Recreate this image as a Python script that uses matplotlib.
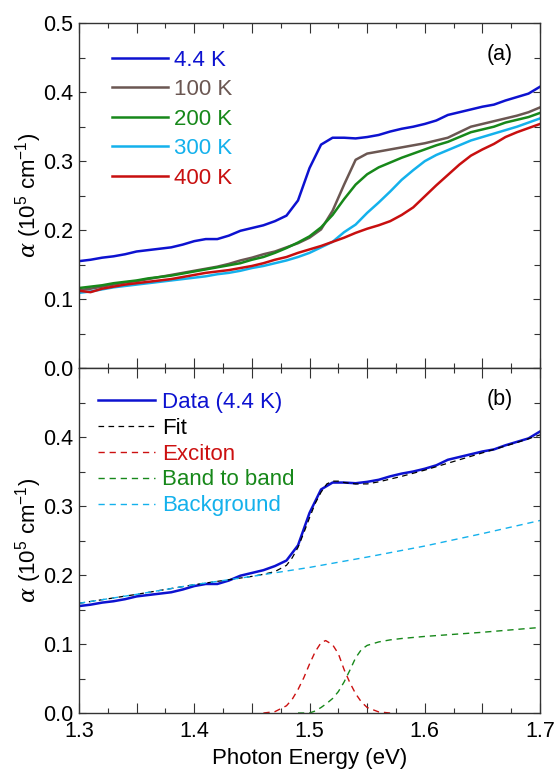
import matplotlib
matplotlib.use("Agg")
import matplotlib.pyplot as plt
from matplotlib.ticker import MultipleLocator, FuncFormatter

plt.rcParams['font.family'] = ['Liberation Sans', 'DejaVu Sans']
plt.rcParams['mathtext.fontset'] = 'custom'
plt.rcParams['mathtext.rm'] = 'Liberation Sans'
plt.rcParams['mathtext.it'] = 'DejaVu Serif:italic'

# photon energy grid (eV) for the measured spectra
ENERGY = [1.30, 1.31, 1.32, 1.33, 1.34, 1.35, 1.36, 1.37, 1.38, 1.39,
          1.40, 1.41, 1.42, 1.43, 1.44, 1.45, 1.46, 1.47, 1.48, 1.49,
          1.50, 1.51, 1.52, 1.53, 1.54, 1.55, 1.56, 1.57, 1.58, 1.59,
          1.60, 1.61, 1.62, 1.63, 1.64, 1.65, 1.66, 1.67, 1.68, 1.69, 1.70]

# absorption, 10^5 cm^-1
ALPHA_4K = [0.155, 0.157, 0.160, 0.162, 0.165, 0.169, 0.171, 0.173, 0.175, 0.179,
            0.184, 0.187, 0.187, 0.192, 0.199, 0.203, 0.207, 0.213, 0.221, 0.243,
            0.290, 0.324, 0.334, 0.334, 0.333, 0.335, 0.338, 0.343, 0.347, 0.350,
            0.354, 0.359, 0.367, 0.371, 0.375, 0.379, 0.382, 0.388, 0.393, 0.398, 0.408]
ALPHA_100K = [0.113, 0.115, 0.118, 0.121, 0.124, 0.126, 0.129, 0.132, 0.135, 0.138,
              0.141, 0.144, 0.147, 0.151, 0.156, 0.160, 0.165, 0.169, 0.175, 0.181,
              0.189, 0.201, 0.228, 0.266, 0.302, 0.311, 0.314, 0.317, 0.320, 0.323,
              0.326, 0.330, 0.334, 0.342, 0.350, 0.354, 0.358, 0.362, 0.366, 0.371, 0.378]
ALPHA_200K = [0.116, 0.118, 0.120, 0.123, 0.125, 0.127, 0.130, 0.132, 0.134, 0.137,
              0.140, 0.143, 0.146, 0.149, 0.152, 0.157, 0.161, 0.167, 0.174, 0.182,
              0.191, 0.204, 0.222, 0.245, 0.266, 0.281, 0.291, 0.298, 0.305, 0.311,
              0.317, 0.323, 0.328, 0.335, 0.342, 0.346, 0.350, 0.356, 0.360, 0.364, 0.370]
ALPHA_300K = [0.109, 0.111, 0.114, 0.117, 0.119, 0.121, 0.123, 0.125, 0.127, 0.129,
              0.131, 0.133, 0.136, 0.138, 0.141, 0.145, 0.148, 0.152, 0.156, 0.161,
              0.167, 0.175, 0.183, 0.197, 0.208, 0.225, 0.240, 0.256, 0.273, 0.287,
              0.300, 0.309, 0.316, 0.323, 0.330, 0.335, 0.340, 0.345, 0.350, 0.356, 0.362]
ALPHA_400K = [0.112, 0.110, 0.115, 0.118, 0.121, 0.123, 0.125, 0.127, 0.129, 0.132,
              0.135, 0.138, 0.140, 0.142, 0.145, 0.148, 0.152, 0.157, 0.161, 0.167,
              0.172, 0.177, 0.183, 0.189, 0.196, 0.202, 0.207, 0.213, 0.222, 0.233,
              0.249, 0.265, 0.280, 0.295, 0.308, 0.317, 0.325, 0.335, 0.342, 0.348, 0.354]

# fit components for panel (b)
FIT_E = [1.30, 1.35, 1.40, 1.45, 1.46, 1.47, 1.48, 1.485, 1.49, 1.495, 1.50, 1.505,
         1.51, 1.515, 1.52, 1.525, 1.53, 1.535, 1.54, 1.545, 1.55, 1.56, 1.57, 1.58,
         1.60, 1.62, 1.65, 1.68, 1.70]
FIT = [0.159, 0.172, 0.186, 0.198, 0.201, 0.205, 0.214, 0.225, 0.240, 0.261, 0.283, 0.304,
       0.320, 0.332, 0.336, 0.336, 0.334, 0.333, 0.332, 0.332, 0.332, 0.335, 0.339, 0.343,
       0.352, 0.362, 0.377, 0.392, 0.403]

EXC_E = [1.46, 1.47, 1.48, 1.485, 1.49, 1.495, 1.50, 1.505, 1.51, 1.514, 1.52, 1.525,
         1.53, 1.535, 1.54, 1.545, 1.55, 1.56, 1.57]
EXCITON = [0.0, 0.002, 0.0105, 0.020, 0.034, 0.051, 0.071, 0.089, 0.102, 0.105, 0.099, 0.086,
           0.063, 0.044, 0.028, 0.016, 0.008, 0.0016, 0.0]

BAND_E = [1.49, 1.50, 1.505, 1.51, 1.515, 1.52, 1.525, 1.53, 1.535, 1.54, 1.545, 1.55,
          1.56, 1.57, 1.58, 1.60, 1.65, 1.70]
BAND = [0.0, 0.0, 0.003, 0.008, 0.014, 0.021, 0.031, 0.045, 0.062, 0.080, 0.092, 0.098,
        0.103, 0.106, 0.108, 0.111, 0.117, 0.124]

BG_E = [1.30, 1.35, 1.40, 1.45, 1.50, 1.55, 1.60, 1.65, 1.70]
BACKGROUND = [0.159, 0.172, 0.186, 0.198, 0.211, 0.226, 0.242, 0.260, 0.279]

LABELS_A = ["4.4 K", "100 K", "200 K", "300 K", "400 K"]
COLORS_A = ["#0d12d0", "#6b5752", "#17881a", "#14b1ec", "#c80f0f"]

SPINE = "#333333"
FS = 16
TICK_FS = 15.5
DASH = (0, (4.5, 3.5))


def style_axes(ax):
    for s in ax.spines.values():
        s.set_linewidth(1.0)
        s.set_color(SPINE)
    ax.set_xlim(1.3, 1.7)
    ax.set_ylim(0.0, 0.5)
    ax.xaxis.set_major_locator(MultipleLocator(0.05))
    ax.xaxis.set_minor_locator(MultipleLocator(0.025))
    ax.yaxis.set_major_locator(MultipleLocator(0.1))
    ax.yaxis.set_minor_locator(MultipleLocator(0.05))
    ax.tick_params(which='both', direction='in', top=True, right=True,
                   width=0.8, color=SPINE, labelsize=TICK_FS)
    ax.tick_params(axis='x', which='major', length=7.2, pad=6)
    ax.tick_params(axis='x', which='minor', length=3.6)
    ax.tick_params(axis='y', which='major', length=5.0, pad=4)
    ax.tick_params(axis='y', which='minor', length=4.3)
    ax.set_ylabel(r'$\alpha$ (10$^5$ cm$^{-1}$)', fontsize=FS)
    ax.yaxis.set_label_coords(-0.076, 0.5)


def xfmt(v, pos):
    if abs(round(v * 10) - v * 10) < 1e-6:
        return f"{v:.1f}"
    return ""


fig = plt.figure(figsize=(5.58, 7.71), dpi=100)
ax1 = fig.add_axes([0.1416, 0.5227, 0.8262, 0.4471])
ax2 = fig.add_axes([0.1416, 0.0752, 0.8262, 0.4475])

# (a) temperature dependence
series = [ALPHA_4K, ALPHA_100K, ALPHA_200K, ALPHA_300K, ALPHA_400K]
for y, lab, c in zip(series, LABELS_A, COLORS_A):
    ax1.plot(ENERGY, y, color=c, lw=1.8, label=lab)
style_axes(ax1)
ax1.tick_params(axis='x', labelbottom=False)
ax1.yaxis.set_major_formatter(FuncFormatter(lambda v, p: f"{v:.1f}"))
ax1.legend(loc='upper left', bbox_to_anchor=(0.072, 0.923), frameon=False,
           fontsize=FS, handlelength=2.5, handletextpad=0.3, labelspacing=0.38,
           borderpad=0, borderaxespad=0, labelcolor='linecolor')
ax1.text(0.941, 0.91, "(a)", transform=ax1.transAxes, ha='right', va='center',
         fontsize=TICK_FS)

# (b) fit at 4.4 K
ax2.plot(ENERGY, ALPHA_4K, color=COLORS_A[0], lw=1.8, label="Data (4.4 K)")
ax2.plot(FIT_E, FIT, color='black', lw=0.9, ls=DASH, label="Fit")
ax2.plot(EXC_E, EXCITON, color="#cc1010", lw=1.0, ls=DASH, label="Exciton")
ax2.plot(BAND_E, BAND, color="#17881a", lw=1.0, ls=DASH, label="Band to band")
ax2.plot(BG_E, BACKGROUND, color="#14b1ec", lw=1.0, ls=DASH, label="Background")
style_axes(ax2)
ax2.xaxis.set_major_formatter(FuncFormatter(xfmt))
ax2.yaxis.set_major_formatter(FuncFormatter(lambda v, p: "" if v > 0.45 else f"{v:.1f}"))
ax2.set_xlabel("Photon Energy (eV)", fontsize=FS, labelpad=4)
ax2.legend(loc='upper left', bbox_to_anchor=(0.042, 0.931), frameon=False,
           fontsize=FS, handlelength=2.55, handletextpad=0.3, labelspacing=0.22,
           borderpad=0, borderaxespad=0, labelcolor='linecolor')
ax2.text(0.941, 0.91, "(b)", transform=ax2.transAxes, ha='right', va='center',
         fontsize=TICK_FS)

fig.savefig("out.png", dpi=100)
